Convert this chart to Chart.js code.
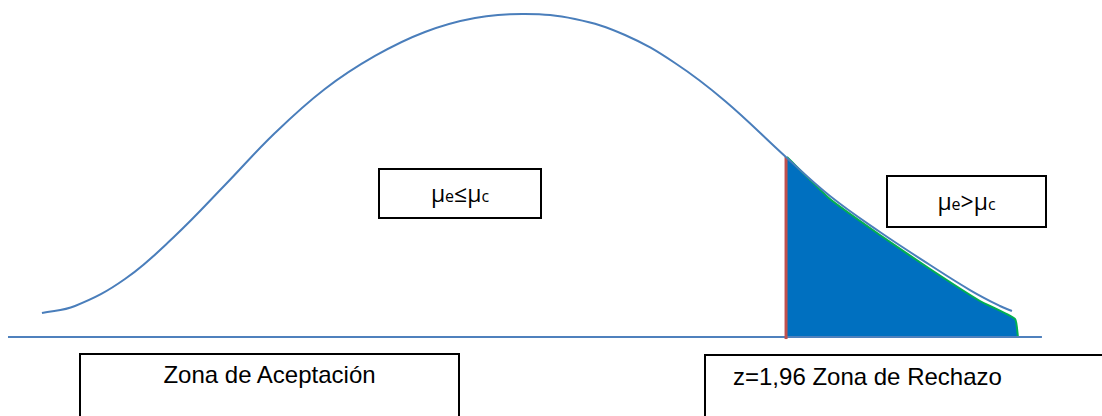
<!DOCTYPE html>
<html>
<head>
<meta charset="utf-8">
<script src="https://cdn.jsdelivr.net/npm/chart.js@4"></script>
<style>
  html, body { margin: 0; padding: 0; background: #fff; }
  #wrap { position: relative; width: 1102px; height: 416px; overflow: hidden; }
  #chart { position: absolute; left: 0; top: 0; }
  .box {
    position: absolute; box-sizing: border-box; border: 2px solid #000; background: #fff;
    font-family: "Liberation Sans", Arial, sans-serif; color: #000;
  }
  .mu { display: flex; align-items: center; justify-content: center; font-family: "Open Sans", sans-serif; font-size: 23px; }
  .mu span { line-height: 1; }
  .mu small { font-size: 16px; }
  .zone { font-size: 24px; line-height: 24px; }
</style>
</head>
<body>
<div id="wrap">
  <canvas id="chart" width="1102" height="416"></canvas>
  <div class="box mu" style="left:378px;top:168px;width:164px;height:51px;"><span>μ<small>e</small>≤μ<small>c</small></span></div>
  <div class="box mu" style="left:886px;top:175px;width:161px;height:53px;"><span>μ<small>e</small>&gt;μ<small>c</small></span></div>
  <div class="box zone" style="left:79px;top:353px;width:381px;height:90px;padding-top:8px;text-align:center;">Zona de Aceptación</div>
  <div class="box zone" style="left:704px;top:354px;width:420px;height:90px;padding-top:9px;padding-left:27px;">z=1,96 Zona de Rechazo</div>
</div>
<script>
// curve: z position and relative density
const curveZ = [-3.626, -3.378, -3.003, -2.628, -2.252, -1.877, -1.502, -1.126, -0.751, -0.375, 0,
  0.375, 0.751, 1.126, 1.502, 1.959, 2.290, 2.665, 3.041, 3.341, 3.566, 3.656];
const curveY = [0.0297, 0.0384, 0.0718, 0.1251, 0.1882, 0.2526, 0.3071, 0.3480, 0.3777, 0.3950, 0.4000,
  0.3938, 0.3740, 0.3393, 0.2923, 0.2229, 0.1746, 0.1300, 0.0892, 0.0582, 0.0384, 0.0322];

// shaded rejection region (edge drawn in green)
const tailZ = [1.967, 2.290, 2.665, 3.041, 3.416, 3.679, 3.701];
const tailY = [0.2229, 0.1709, 0.1263, 0.0842, 0.0446, 0.0223, 0];

const critZ = 1.96;
const critTop = 0.2229;
const baseZ = [-3.881, 3.881];

const pts = (xs, ys) => xs.map((x, i) => ({ x: x, y: ys[i] }));

new Chart(document.getElementById("chart").getContext("2d"), {
  type: "line",
  data: {
    datasets: [
      {
        data: pts(tailZ, tailY),
        borderColor: "#00B050",
        borderWidth: 2,
        backgroundColor: "#0070C0",
        fill: "origin",
        tension: 0.15,
        pointRadius: 0,
        order: 3,
      },
      {
        data: pts(baseZ, [0, 0]),
        borderColor: "#4F81BD",
        borderWidth: 2,
        pointRadius: 0,
        order: 2,
      },
      {
        data: pts([critZ, critZ], [-0.0025, critTop]),
        borderColor: "#C0504D",
        borderWidth: 3,
        pointRadius: 0,
        order: 1,
      },
      {
        data: pts(curveZ, curveY),
        borderColor: "#4A7EBB",
        borderWidth: 2,
        tension: 0.4,
        pointRadius: 0,
        order: 0,
      },
    ],
  },
  options: {
    responsive: false,
    animation: false,
    layout: { padding: 0 },
    plugins: { legend: { display: false }, tooltip: { enabled: false } },
    scales: {
      x: { type: "linear", min: -3.941, max: 4.332, display: false },
      y: { type: "linear", min: -0.0978, max: 0.4173, display: false },
    },
  },
});
</script>
</body>
</html>
